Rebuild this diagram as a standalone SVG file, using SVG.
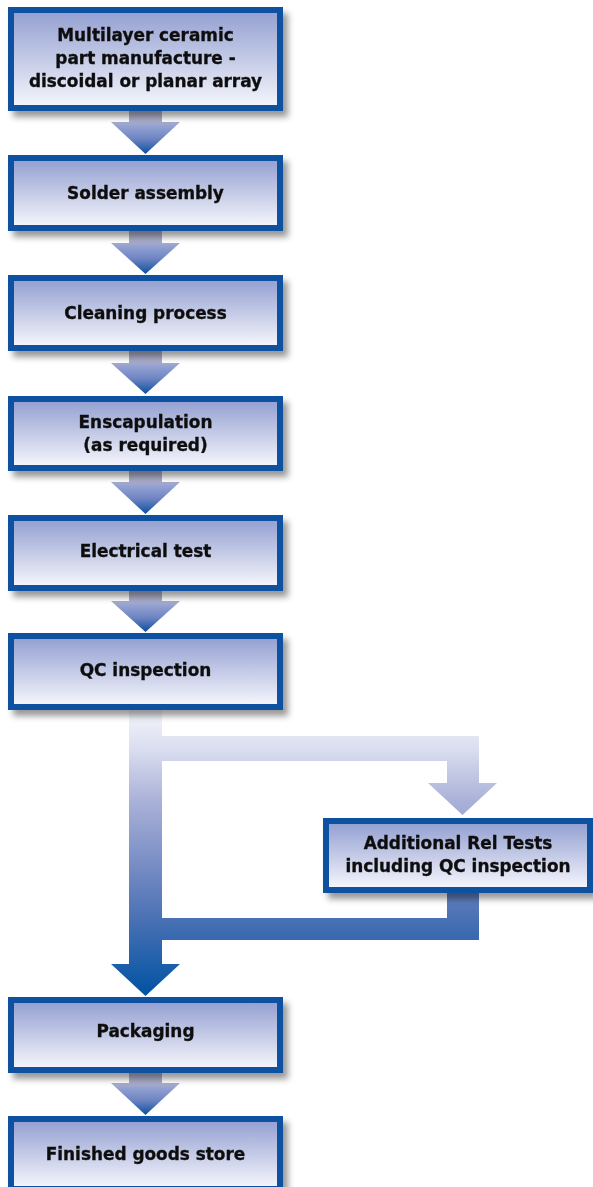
<svg xmlns="http://www.w3.org/2000/svg" width="593" height="1187" viewBox="0 0 593 1187">
<style>
.b{fill:#0a51a0}
.i{fill:url(#boxg)}
.t{font-family:"DejaVu Sans","Liberation Sans",sans-serif;font-weight:bold;font-size:16.9px;fill:#111;stroke:#111;stroke-width:0.35px;text-anchor:middle}
.a{fill:url(#arrg)}
</style>
<defs>
<linearGradient id="boxg" x1="0" y1="0" x2="0" y2="1">
<stop offset="0" stop-color="#95a1d2"/>
<stop offset="1" stop-color="#f3f4fb"/>
</linearGradient>
<linearGradient id="arrg" x1="0" y1="0" x2="0" y2="1">
<stop offset="0" stop-color="#b2b4c8"/>
<stop offset="0.3" stop-color="#a3a8cb"/>
<stop offset="0.36" stop-color="#93a0d2"/>
<stop offset="0.65" stop-color="#6d84c2"/>
<stop offset="1" stop-color="#0a4f9f"/>
</linearGradient>
<linearGradient id="bigg" gradientUnits="userSpaceOnUse" x1="0" y1="710" x2="0" y2="996">
<stop offset="0" stop-color="#f4f5fa"/>
<stop offset="0.14" stop-color="#d9ddef"/>
<stop offset="0.315" stop-color="#aab2d8"/>
<stop offset="0.52" stop-color="#7d90c6"/>
<stop offset="0.73" stop-color="#4a71b4"/>
<stop offset="1" stop-color="#0052a3"/>
</linearGradient>
<filter id="sh" x="-10%" y="-20%" width="130%" height="160%">
<feDropShadow dx="5" dy="6" stdDeviation="3" flood-color="#000" flood-opacity="0.4"/>
</filter>
</defs>

<g id="connectors">
<polygon class="a" points="129,111 162,111 162,122 180,122 145.5,154 111,122 129,122"/>
<polygon class="a" points="129,231 162,231 162,243 180,243 145.5,274 111,243 129,243"/>
<polygon class="a" points="129,351 162,351 162,363 180,363 145.5,394 111,363 129,363"/>
<polygon class="a" points="129,471 162,471 162,482 180,482 145.5,514 111,482 129,482"/>
<polygon class="a" points="129,591 162,591 162,601 180,601 145.5,632 111,601 129,601"/>
<polygon class="a" points="129,1073 162,1073 162,1083 180,1083 145.5,1115 111,1083 129,1083"/>
<polygon fill="url(#bigg)" points="129,710 162,710 162,736 479,736 479,783 497,783 462.5,815 428,783 447,783 447,761 162,761 162,918 447,918 447,893 479,893 479,940 162,940 162,964 180,964 145.5,996 111,964 129,964"/>
</g>

<g id="n1" filter="url(#sh)">
<rect class="b" x="8" y="7" width="275" height="104"/>
<rect class="i" x="14" y="13" width="263" height="92"/>
<text class="t" x="145.5" y="41">Multilayer ceramic</text>
<text class="t" x="145.5" y="64">part manufacture -</text>
<text class="t" x="145.5" y="87">discoidal or planar array</text>
</g>
<g id="n2" filter="url(#sh)">
<rect class="b" x="8" y="155" width="275" height="76"/>
<rect class="i" x="14" y="161" width="263" height="64"/>
<text class="t" x="145.5" y="199">Solder assembly</text>
</g>
<g id="n3" filter="url(#sh)">
<rect class="b" x="8" y="275" width="275" height="76"/>
<rect class="i" x="14" y="281" width="263" height="64"/>
<text class="t" x="145.5" y="319">Cleaning process</text>
</g>
<g id="n4" filter="url(#sh)">
<rect class="b" x="8" y="396" width="275" height="75"/>
<rect class="i" x="14" y="402" width="263" height="63"/>
<text class="t" x="145.5" y="428">Enscapulation</text>
<text class="t" x="145.5" y="451">(as required)</text>
</g>
<g id="n5" filter="url(#sh)">
<rect class="b" x="8" y="515" width="275" height="76"/>
<rect class="i" x="14" y="521" width="263" height="64"/>
<text class="t" x="145.5" y="557">Electrical test</text>
</g>
<g id="n6" filter="url(#sh)">
<rect class="b" x="8" y="633" width="275" height="77"/>
<rect class="i" x="14" y="639" width="263" height="65"/>
<text class="t" x="145.5" y="676">QC inspection</text>
</g>
<g id="n7" filter="url(#sh)">
<rect class="b" x="323" y="818" width="270" height="75"/>
<rect class="i" x="329" y="824" width="258" height="63"/>
<text class="t" x="458" y="849">Additional Rel Tests</text>
<text class="t" x="458" y="872">including QC inspection</text>
</g>
<g id="n8" filter="url(#sh)">
<rect class="b" x="8" y="997" width="275" height="76"/>
<rect class="i" x="14" y="1003" width="263" height="64"/>
<text class="t" x="145.5" y="1037">Packaging</text>
</g>
<g id="n9" filter="url(#sh)">
<rect class="b" x="8" y="1116" width="275" height="76"/>
<rect class="i" x="14" y="1122" width="263" height="64"/>
<text class="t" x="145.5" y="1160">Finished goods store</text>
</g>
</svg>
